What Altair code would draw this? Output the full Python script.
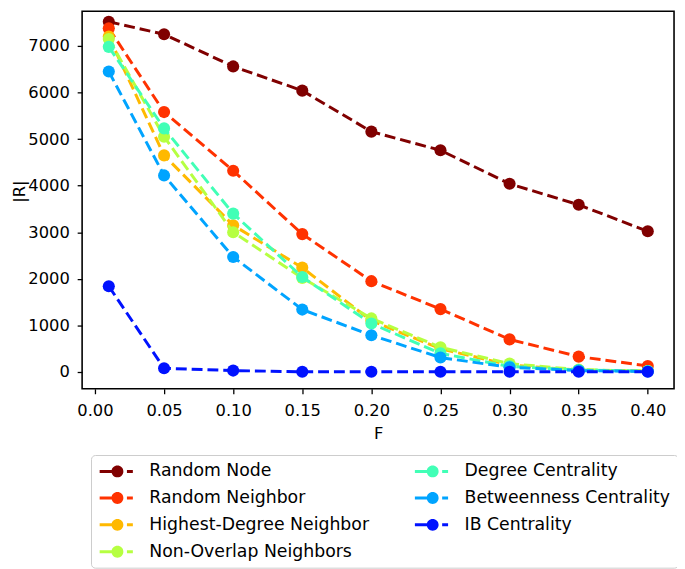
import altair as alt
import pandas as pd

F = [0.01, 0.05, 0.10, 0.15, 0.20, 0.25, 0.30, 0.35, 0.40]

series_names = [
    "Random Node",
    "Random Neighbor",
    "Highest-Degree Neighbor",
    "Non-Overlap Neighbors",
    "Degree Centrality",
    "Betweenness Centrality",
    "IB Centrality",
]
series_colors = ["#800000", "#ff3200", "#ffb900", "#b6ff41", "#41ffb6", "#00a4ff", "#0012ff"]

random_node = [7520, 7250, 6560, 6040, 5160, 4760, 4040, 3590, 3020]
random_neighbor = [7380, 5580, 4320, 2960, 1950, 1350, 700, 330, 130]
highest_degree = [7200, 4650, 3150, 2240, 1100, 500, 150, 40, 20]
non_overlap = [7150, 5050, 3000, 2020, 1150, 530, 180, 50, 20]
degree_centrality = [6980, 5230, 3400, 2040, 1040, 400, 120, 40, 20]
betweenness = [6450, 4220, 2470, 1340, 790, 310, 100, 30, 10]
ib_centrality = [1840, 80, 30, 5, 5, 5, 5, 5, 5]

all_values = [random_node, random_neighbor, highest_degree, non_overlap,
              degree_centrality, betweenness, ib_centrality]

x_ticks = [0.00, 0.05, 0.10, 0.15, 0.20, 0.25, 0.30, 0.35, 0.40]
y_ticks = [0, 1000, 2000, 3000, 4000, 5000, 6000, 7000]

rows = []
for name, vals in zip(series_names, all_values):
    for f, v in zip(F, vals):
        rows.append({"series": name, "F": f, "R": v})
df = pd.DataFrame(rows)

FONT = "DejaVu Sans"

x_enc = alt.X("F:Q", title="F",
              scale=alt.Scale(domain=[-0.0093, 0.419], nice=False, zero=False),
              axis=alt.Axis(values=x_ticks, format=".2f", titleY=37))
y_enc = alt.Y("R:Q", title="|R|",
              scale=alt.Scale(domain=[-361, 7743], nice=False, zero=False),
              axis=alt.Axis(values=y_ticks, format="d", titleX=-55, titleY=182,
                            titleAngle=270, titleBaseline="bottom"))

sym_path = ("M-3,-0.25H-0.5V0.25H-3Z M1.6,-0.25H2.6V0.25H1.6Z "
            "M1,0A1,1,0,1,1,-1,0A1,1,0,1,1,1,0Z")

legend = alt.Legend(
    title=None, orient="none", legendX=9, legendY=449, columns=2,
    direction="vertical", columnPadding=45, rowPadding=8.2, padding=7.5,
    symbolType=sym_path, symbolSize=144, symbolStrokeWidth=0,
    symbolOffset=10.5, labelOffset=23.5, labelFontSize=17.5, labelFont=FONT,
    labelColor="black", labelLimit=400, strokeColor="#cccccc",
    fillColor="white", cornerRadius=4, values=series_names,
)

color_scale = alt.Scale(domain=series_names, range=series_colors)

layers = []
for name, col in zip(series_names, series_colors):
    base = alt.Chart(df).transform_filter(alt.datum.series == name)
    line = base.mark_line(strokeDash=[11, 5], strokeWidth=3, color=col).encode(
        x=x_enc, y=y_enc)
    pts = base.mark_point(filled=True, size=150, opacity=1).encode(
        x=x_enc, y=y_enc,
        color=alt.Color("series:N", scale=color_scale, legend=legend))
    layers += [line, pts]

chart = alt.layer(*layers).properties(
    width=599, height=382,
    autosize=alt.AutoSizeParams(type="none"),
    padding={"left": 75, "top": 0, "right": 3, "bottom": 180},
).configure_view(
    stroke="black", strokeWidth=1.6
).configure_axis(
    domain=False, grid=False, ticks=True, tickColor="black", tickWidth=1.3,
    tickSize=5, labelColor="black", labelFont=FONT, labelFontSize=16.5,
    titleFont=FONT, titleFontSize=16.5, titleFontWeight="normal",
    titleColor="black", labelPadding=8,
).configure_axisX(
    labelPadding=9
)

chart.save("out.html", embed_options={"renderer": "svg", "actions": False})
